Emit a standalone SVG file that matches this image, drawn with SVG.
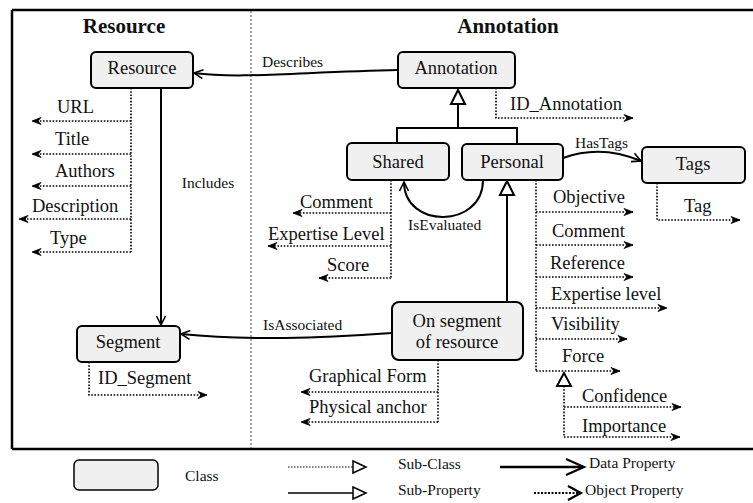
<svg xmlns="http://www.w3.org/2000/svg" width="753" height="503" viewBox="0 0 753 503">
<style>
.node rect{fill:#f0f0f0;stroke:#000;stroke-width:2}
.nl{font-family:"Liberation Serif","Times New Roman",serif;font-size:18.5px;fill:#111}
.pl{font-family:"Liberation Serif","Times New Roman",serif;font-size:18.5px;fill:#111}
.rl{font-family:"Liberation Serif","Times New Roman",serif;font-size:15.5px;fill:#111}
.tt{font-family:"Liberation Serif","Times New Roman",serif;font-size:21px;font-weight:bold;fill:#111}
.rel{fill:none;stroke:#000;stroke-width:2}
.dot{fill:none;stroke:#000;stroke-width:1.6;stroke-dasharray:1.6,1.6}
.tri{fill:#fff;stroke:#000;stroke-width:2}
</style>
<defs>
<marker id="va" markerUnits="userSpaceOnUse" markerWidth="12" markerHeight="12" refX="10" refY="5" orient="auto" overflow="visible">
<path d="M1,0.5 L10,5 L1,9.5" fill="none" stroke="#000" stroke-width="1.6"/>
</marker>
<marker id="pa" markerUnits="userSpaceOnUse" markerWidth="12" markerHeight="10" refX="9" refY="3.5" orient="auto" overflow="visible">
<path d="M0,0 L9,3.5 L0,7 L3,3.5 Z" fill="#000" stroke="#000" stroke-width="0.8"/>
</marker>
</defs>

<!-- frame -->
<g id="frame">
<path d="M12,10 H753 M12,10 V449 M12,449 H753" fill="none" stroke="#000" stroke-width="2.5"/>
<line x1="251" y1="11" x2="251" y2="448" stroke="#444" stroke-width="1" stroke-dasharray="2,2"/>
<text class="tt" x="124" y="33" text-anchor="middle">Resource</text>
<text class="tt" x="508" y="33" text-anchor="middle">Annotation</text>
</g>

<!-- connectors -->
<g id="connectors">
<path class="rel" d="M398,70 C300,72 240,79 194,73" marker-end="url(#va)"/>
<text class="rl" x="262" y="67">Describes</text>
<path class="rel" d="M161,88 L161,325" marker-end="url(#va)"/>
<text class="rl" x="208" y="188" text-anchor="middle">Includes</text>
<path class="rel" d="M392,333 C320,338 250,341 181,334" marker-end="url(#va)"/>
<text class="rl" x="263" y="330">IsAssociated</text>
<path class="rel" d="M563,158 C590,148 615,150 641,161" marker-end="url(#va)"/>
<text class="rl" x="575" y="148">HasTags</text>
<path class="rel" d="M483,180 C483,229 404,229 404,182" marker-end="url(#va)"/>
<text class="rl" x="408" y="230">IsEvaluated</text>

<!-- subclass Annotation -> Shared/Personal -->
<path class="rel" d="M458,104 V128 M397,128 H517 M397,127 V143 M517,127 V144"/>
<polygon class="tri" points="458,90 451,104 465,104"/>
<!-- subclass Personal -> On segment -->
<path class="rel" d="M507,195 V302"/>
<polygon class="tri" points="507,181 500,195 514,195"/>

<!-- Resource properties -->
<path class="dot" d="M131,88 V252"/>
<path class="dot" d="M131,121 H32" marker-end="url(#pa)"/>
<path class="dot" d="M131,154 H32" marker-end="url(#pa)"/>
<path class="dot" d="M131,186 H32" marker-end="url(#pa)"/>
<path class="dot" d="M131,219 H19" marker-end="url(#pa)"/>
<path class="dot" d="M131,252 H32" marker-end="url(#pa)"/>
<text class="pl" x="57" y="113">URL</text>
<text class="pl" x="55" y="145">Title</text>
<text class="pl" x="55" y="177">Authors</text>
<text class="pl" x="32" y="212">Description</text>
<text class="pl" x="50" y="244">Type</text>

<!-- Segment property -->
<path class="dot" d="M89,362 V395 H207" marker-end="url(#pa)"/>
<text class="pl" x="98" y="384">ID_Segment</text>

<!-- Annotation property -->
<path class="dot" d="M496,88 V118 H633" marker-end="url(#pa)"/>
<text class="pl" x="510" y="110">ID_Annotation</text>

<!-- Tags property -->
<path class="dot" d="M657,183 V220 H740" marker-end="url(#pa)"/>
<text class="pl" x="684" y="212">Tag</text>

<!-- Shared properties -->
<path class="dot" d="M391,180 V278"/>
<path class="dot" d="M391,213 H293" marker-end="url(#pa)"/>
<path class="dot" d="M391,246 H268" marker-end="url(#pa)"/>
<path class="dot" d="M391,278 H319" marker-end="url(#pa)"/>
<text class="pl" x="300" y="208">Comment</text>
<text class="pl" x="268" y="240">Expertise Level</text>
<text class="pl" x="327" y="271">Score</text>

<!-- On segment properties -->
<path class="dot" d="M438,360 V422"/>
<path class="dot" d="M438,392 H301" marker-end="url(#pa)"/>
<path class="dot" d="M438,422 H301" marker-end="url(#pa)"/>
<text class="pl" x="309" y="382">Graphical Form</text>
<text class="pl" x="309" y="413">Physical anchor</text>

<!-- Personal properties -->
<path class="dot" d="M536,180 V371"/>
<path class="dot" d="M536,212 H633" marker-end="url(#pa)"/>
<path class="dot" d="M536,245 H633" marker-end="url(#pa)"/>
<path class="dot" d="M536,277 H633" marker-end="url(#pa)"/>
<path class="dot" d="M536,308 H667" marker-end="url(#pa)"/>
<path class="dot" d="M536,339 H627" marker-end="url(#pa)"/>
<path class="dot" d="M536,371 H620" marker-end="url(#pa)"/>
<text class="pl" x="553" y="203">Objective</text>
<text class="pl" x="552" y="237">Comment</text>
<text class="pl" x="550" y="269">Reference</text>
<text class="pl" x="551" y="300">Expertise level</text>
<text class="pl" x="551" y="330">Visibility</text>
<text class="pl" x="562" y="362">Force</text>

<!-- Force sub-properties -->
<path class="dot" d="M564,386 V437"/>
<path class="dot" d="M564,407 H681" marker-end="url(#pa)"/>
<path class="dot" d="M564,437 H680" marker-end="url(#pa)"/>
<polygon class="tri" points="564,373 557,386 571,386"/>
<text class="pl" x="582" y="402">Confidence</text>
<text class="pl" x="582" y="432">Importance</text>
</g>

<!-- nodes -->
<g id="node-resource" class="node"><rect x="91" y="52" width="102" height="36" rx="5"/><text class="nl" x="142" y="74" text-anchor="middle">Resource</text></g>
<g id="node-annotation" class="node"><rect x="398" y="52" width="117" height="36" rx="5"/><text class="nl" x="456" y="74" text-anchor="middle">Annotation</text></g>
<g id="node-shared" class="node"><rect x="347" y="143" width="102" height="37" rx="5"/><text class="nl" x="398" y="168" text-anchor="middle">Shared</text></g>
<g id="node-personal" class="node"><rect x="462" y="144" width="101" height="36" rx="5"/><text class="nl" x="512" y="168" text-anchor="middle">Personal</text></g>
<g id="node-tags" class="node"><rect x="642" y="147" width="103" height="36" rx="5"/><text class="nl" x="693" y="170" text-anchor="middle">Tags</text></g>
<g id="node-segment" class="node"><rect x="77" y="326" width="103" height="36" rx="5"/><text class="nl" x="128" y="348" text-anchor="middle">Segment</text></g>
<g id="node-onsegment" class="node"><rect x="392" y="302" width="131" height="58" rx="7"/><text class="nl" x="457" y="327" text-anchor="middle">On segment</text><text class="nl" x="457" y="348" text-anchor="middle">of resource</text></g>

<!-- legend -->
<g id="legend">
<rect x="74" y="460" width="84" height="30" rx="5" fill="#f0f0f0" stroke="#000" stroke-width="1.5"/>
<text class="rl" x="185" y="481">Class</text>
<line x1="288" y1="467" x2="353" y2="467" stroke="#000" stroke-width="1.2" stroke-dasharray="1.5,1.5"/>
<polygon points="353,461 366,467 353,473" fill="#fff" stroke="#000" stroke-width="1.5"/>
<text class="rl" x="398" y="469">Sub-Class</text>
<line x1="288" y1="493" x2="353" y2="493" stroke="#000" stroke-width="1.5"/>
<polygon points="353,487 366,493 353,499" fill="#fff" stroke="#000" stroke-width="1.5"/>
<text class="rl" x="398" y="495">Sub-Property</text>
<line x1="500" y1="467" x2="583" y2="467" stroke="#000" stroke-width="2.5"/>
<path d="M566,459 L584,467 L566,475" fill="none" stroke="#000" stroke-width="2.2"/>
<text class="rl" x="589" y="468">Data Property</text>
<line x1="534" y1="493" x2="580" y2="493" stroke="#000" stroke-width="2" stroke-dasharray="2,1.5"/>
<path d="M568,486 L581,493 L568,500" fill="none" stroke="#000" stroke-width="2.2"/>
<text class="rl" x="585" y="495">Object Property</text>
</g>
</svg>
